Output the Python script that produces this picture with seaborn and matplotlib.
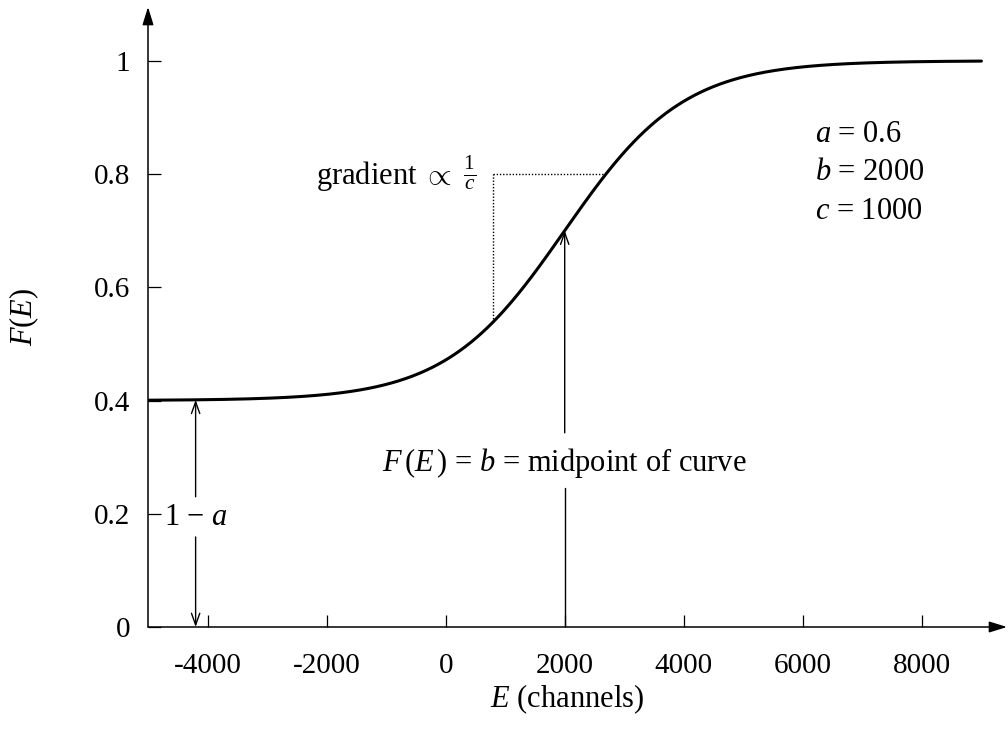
import numpy as np
import pandas as pd
import matplotlib
matplotlib.use("Agg")
import matplotlib.pyplot as plt
import seaborn as sns

# Logistic response parameters
a = 0.6
b = 2000
c = 1000

# Energy range of the plotted curve
e_start = -5000
e_stop = 9000
n_points = 600

# Point on the lower curve where the gradient triangle starts
e_grad = 800
grad_level = 0.8

# Position of the "1 - a" dimension arrow
e_offset_arrow = -4200

x_ticks = [-4000, -2000, 0, 2000, 4000, 6000, 8000]
x_tick_labels = ["-4000", "-2000", "0", "2000", "4000", "6000", "8000"]
y_ticks = [0, 0.2, 0.4, 0.6, 0.8, 1.0]
y_tick_labels = ["0", "0.2", "0.4", "0.6", "0.8", "1"]


def response(e):
    return (1 - a) + a / (1 + np.exp(-(np.asarray(e, dtype=float) - b) / c))


energy = np.linspace(e_start, e_stop, n_points)
df = pd.DataFrame({"E": energy, "F": response(energy)})

sns.set_theme(style="white")
plt.rcParams["font.family"] = ["Liberation Serif", "DejaVu Serif"]
plt.rcParams["mathtext.fontset"] = "custom"
plt.rcParams["mathtext.rm"] = "Liberation Serif"
plt.rcParams["mathtext.it"] = "Liberation Serif:italic"
plt.rcParams["mathtext.bf"] = "Liberation Serif:bold"

FS = 21
FS_NOTE = 22

fig = plt.figure(figsize=(10.08, 7.40), dpi=100)
ax = fig.add_axes([148 / 1008, 113 / 740, 859 / 1008, 620 / 740])

sns.lineplot(data=df, x="E", y="F", ax=ax, color="black", linewidth=2.2)

ax.set_xlim(-5000, 9430)
ax.set_ylim(0, 1.095)

for s in ax.spines.values():
    s.set_visible(False)

# Axes with arrow heads
arrow_kw = dict(arrowstyle="-|>,head_length=0.9,head_width=0.28", color="black",
                lw=1.1, shrinkA=0, shrinkB=0)
ax.annotate("", xy=(1, 0), xytext=(0, 0), xycoords="axes fraction",
            arrowprops=arrow_kw, annotation_clip=False)
ax.annotate("", xy=(0, 1), xytext=(0, 0), xycoords="axes fraction",
            arrowprops=arrow_kw, annotation_clip=False)

ax.set_xticks(x_ticks)
ax.set_xticklabels(x_tick_labels)
ax.set_yticks(y_ticks)
ax.set_yticklabels(y_tick_labels)
ax.tick_params(axis="both", direction="in", length=9, width=0.9, color="black",
               labelsize=FS, labelcolor="black")
ax.tick_params(axis="x", pad=19, bottom=True)
ax.tick_params(axis="y", pad=13, left=True)

ax.set_xlabel(r"$E$ (channels)", fontsize=FS_NOTE, color="black")
ax.set_ylabel(r"$F(E)$", fontsize=FS_NOTE, color="black")
ax.xaxis.set_label_coords(0.488, -0.09)
ax.yaxis.set_label_coords(-0.125, 0.5)

# Gradient triangle (dotted)
f_grad = float(response(e_grad))
e_cross = b - c * np.log(a / (grad_level - (1 - a)) - 1)
ax.plot([e_grad, e_grad], [f_grad, grad_level], color="black", lw=1.0, ls=(0, (1, 1.3)))
ax.plot([e_grad, e_cross], [grad_level, grad_level], color="black", lw=1.0, ls=(0, (1, 1.3)))
ax.text(e_grad - 280, grad_level, r"gradient $\propto$ $\frac{1}{c}$", fontsize=FS_NOTE,
        ha="right", va="center", color="black")

# Midpoint arrow
f_mid = float(response(b))
open_head = dict(arrowstyle="->,head_length=0.7,head_width=0.25", color="black",
                 lw=1.0, shrinkA=0, shrinkB=0)
ax.plot([b, b], [0, 0.246], color="black", lw=1.0)
ax.annotate("", xy=(b, f_mid), xytext=(b, 0.343), arrowprops=open_head)
ax.text(b, 0.29, r"$F\,(E\,)$ = $b$ = midpoint of curve", fontsize=FS_NOTE,
        ha="center", va="center", color="black")

# Offset dimension arrow "1 - a"
f_low = float(response(e_offset_arrow))
ax.annotate("", xy=(e_offset_arrow, f_low), xytext=(e_offset_arrow, 0.23),
            arrowprops=open_head)
ax.annotate("", xy=(e_offset_arrow, 0), xytext=(e_offset_arrow, 0.159),
            arrowprops=open_head)
ax.text(e_offset_arrow, 0.194, r"1 $-$ $a$", fontsize=FS_NOTE, ha="center", va="center",
        color="black")

# Parameter values
ax.text(6210, 0.869, r"$a$ = 0.6", fontsize=FS_NOTE, ha="left", va="center", color="black")
ax.text(6210, 0.802, r"$b$ = 2000", fontsize=FS_NOTE, ha="left", va="center", color="black")
ax.text(6210, 0.733, r"$c$ = 1000", fontsize=FS_NOTE, ha="left", va="center", color="black")

fig.savefig("out.png", dpi=100)
